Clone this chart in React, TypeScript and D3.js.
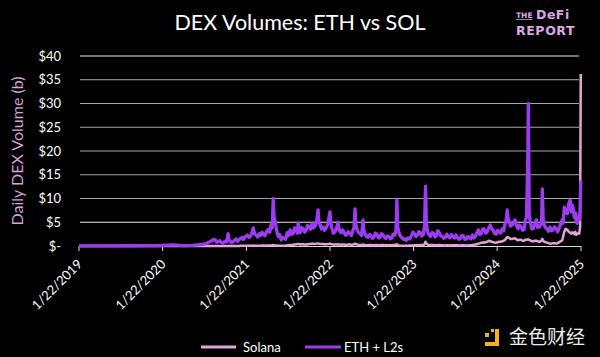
import React, { useEffect } from "react";
import * as d3 from "d3";

// ---- data, grouped by period ----
const datesA: string[] = ["2019-01-22","2019-05-01","2019-09-01","2020-01-01","2020-03-12","2020-04-15","2020-06-01","2020-07-01"];
const ethA: number[] = [0.03,0.04,0.05,0.06,0.25,0.1,0.15,0.3];
const solA: number[] = [0,0,0,0,0,0,0,0];

const datesB: string[] = ["2020-07-15","2020-07-30","2020-08-10","2020-08-21","2020-08-30","2020-09-08","2020-09-14","2020-09-21","2020-09-28","2020-10-04","2020-10-12","2020-10-21","2020-10-28","2020-11-03","2020-11-07","2020-11-12","2020-11-18","2020-11-25","2020-12-01","2020-12-08","2020-12-14","2020-12-21","2020-12-27","2021-01-03","2021-01-08","2021-01-13","2021-01-20"];
const ethB: number[] = [0.35,0.5,0.8,1.0,1.4,1.3,0.8,0.9,1.1,0.8,0.6,1.0,0.9,2.6,1.3,1.0,0.7,0.9,1.2,1.5,1.0,1.3,1.6,1.8,1.4,1.7,2.1];
const solB: number[] = [0,0,0,0,0,0,0,0,0,0,0,0,0,0.01,0.01,0.01,0.01,0.01,0.02,0.02,0.02,0.02,0.03,0.03,0.03,0.03,0.04];

const datesC: string[] = ["2021-01-26","2021-02-02","2021-02-08","2021-02-14","2021-02-21","2021-02-27","2021-03-06","2021-03-12","2021-03-19","2021-03-25","2021-04-01","2021-04-07","2021-04-14","2021-04-20","2021-04-27","2021-05-04","2021-05-10","2021-05-15","2021-05-19","2021-05-23","2021-05-28","2021-06-04","2021-06-10","2021-06-16","2021-06-23","2021-06-29","2021-07-06","2021-07-12","2021-07-19","2021-07-25","2021-08-01","2021-08-07","2021-08-14","2021-08-20","2021-08-27","2021-09-01","2021-09-05","2021-09-09","2021-09-14","2021-09-20","2021-09-27","2021-10-03","2021-10-10","2021-10-16","2021-10-23","2021-10-29","2021-11-05","2021-11-11","2021-11-18","2021-11-25","2021-12-01","2021-12-05","2021-12-10","2021-12-16","2021-12-23","2021-12-29","2022-01-05","2022-01-12"];
const ethC: number[] = [2.3,1.8,2.0,2.6,3.8,2.5,2.3,1.9,2.6,2.2,2.9,2.4,2.2,3.0,3.5,2.9,4.5,3.8,10.0,6.0,5.0,3.0,2.0,2.4,1.3,1.8,1.6,1.4,2.8,2.2,3.4,2.5,2.6,3.8,3.3,2.7,4.8,3.2,2.8,3.9,3.6,2.9,3.3,4.3,4.0,3.5,4.8,3.8,4.2,5.2,7.6,4.8,4.5,3.6,4.0,3.3,3.8,4.5];
const solC: number[] = [0.05,0.05,0.05,0.06,0.08,0.07,0.06,0.06,0.07,0.07,0.08,0.08,0.07,0.09,0.1,0.1,0.12,0.15,0.2,0.15,0.12,0.1,0.08,0.07,0.06,0.06,0.07,0.08,0.1,0.15,0.2,0.22,0.25,0.3,0.35,0.4,0.45,0.4,0.3,0.35,0.35,0.3,0.3,0.35,0.4,0.45,0.5,0.5,0.45,0.5,0.55,0.5,0.45,0.4,0.4,0.35,0.35,0.4];

const datesD: string[] = ["2022-01-22","2022-01-26","2022-01-31","2022-02-06","2022-02-13","2022-02-20","2022-02-26","2022-03-04","2022-03-11","2022-03-17","2022-03-24","2022-03-30","2022-04-06","2022-04-12","2022-04-19","2022-04-25","2022-05-02","2022-05-07","2022-05-11","2022-05-15","2022-05-20","2022-05-26","2022-06-02","2022-06-09","2022-06-15","2022-06-19","2022-06-24","2022-06-30","2022-07-07","2022-07-13","2022-07-20","2022-07-26","2022-08-02","2022-08-08","2022-08-15","2022-08-21","2022-08-28","2022-09-03","2022-09-10","2022-09-16","2022-09-23","2022-09-29","2022-10-06","2022-10-12","2022-10-19","2022-10-25","2022-11-01","2022-11-06","2022-11-10","2022-11-14","2022-11-19","2022-11-25","2022-12-02","2022-12-08","2022-12-15","2022-12-21","2022-12-28","2023-01-05"];
const ethD: number[] = [7.2,4.8,3.6,2.7,3.0,3.8,5.0,3.2,2.8,3.4,3.0,2.3,2.4,3.0,2.6,2.2,3.2,3.9,7.8,4.5,3.5,2.8,2.6,2.2,5.5,3.4,2.5,2.0,1.8,2.4,2.2,1.6,1.9,2.7,2.5,1.7,1.8,2.6,2.4,1.9,1.6,2.1,2.0,1.5,1.7,2.5,2.3,3.2,9.7,4.0,2.8,2.1,1.8,1.4,1.5,1.2,1.7,1.5];
const solD: number[] = [0.5,0.4,0.35,0.3,0.3,0.3,0.35,0.3,0.25,0.3,0.3,0.25,0.25,0.3,0.3,0.25,0.3,0.35,0.5,0.4,0.3,0.25,0.2,0.2,0.3,0.25,0.2,0.15,0.15,0.2,0.2,0.15,0.15,0.2,0.2,0.15,0.15,0.2,0.2,0.15,0.15,0.15,0.15,0.15,0.15,0.2,0.2,0.25,0.35,0.2,0.1,0.05,0.05,0.05,0.05,0.05,0.05,0.08];

const datesE: string[] = ["2023-01-13","2023-01-19","2023-01-26","2023-02-01","2023-02-08","2023-02-14","2023-02-21","2023-02-27","2023-03-06","2023-03-11","2023-03-15","2023-03-19","2023-03-24","2023-03-30","2023-04-06","2023-04-12","2023-04-19","2023-04-25","2023-05-02","2023-05-08","2023-05-15","2023-05-21","2023-05-28","2023-06-03","2023-06-10","2023-06-16","2023-06-23","2023-06-29","2023-07-07","2023-07-13","2023-07-20","2023-07-26","2023-08-02","2023-08-08","2023-08-15","2023-08-21","2023-08-28","2023-09-03","2023-09-10","2023-09-16","2023-09-23","2023-09-29","2023-10-06","2023-10-12","2023-10-19","2023-10-25","2023-11-01","2023-11-07","2023-11-14","2023-11-20","2023-11-27","2023-12-03","2023-12-10","2023-12-16","2023-12-23","2023-12-29","2024-01-05","2024-01-11","2024-01-18"];
const ethE: number[] = [2.2,2.9,2.6,2.0,2.3,3.0,2.8,2.1,2.5,4.5,12.6,4.8,3.0,2.4,2.0,2.8,2.7,1.9,2.2,3.2,2.8,2.1,2.0,1.6,1.8,2.5,2.0,1.7,2.4,1.9,1.7,2.3,1.8,1.4,1.6,2.2,2.1,1.4,1.5,2.0,1.8,1.5,2.3,1.7,2.0,2.8,3.4,2.4,2.6,3.6,3.5,2.7,3.0,3.8,4.4,3.6,3.3,2.6,2.5];
const solE: number[] = [0.1,0.12,0.15,0.15,0.15,0.18,0.2,0.2,0.2,0.4,0.9,0.5,0.3,0.25,0.2,0.2,0.2,0.15,0.15,0.2,0.2,0.15,0.15,0.12,0.12,0.15,0.15,0.12,0.15,0.15,0.15,0.15,0.15,0.12,0.12,0.15,0.15,0.12,0.12,0.12,0.15,0.15,0.2,0.25,0.3,0.35,0.5,0.55,0.7,0.75,0.8,0.75,0.9,1.1,1.0,0.9,0.8,0.75,0.7];

const datesF: string[] = ["2024-01-24","2024-01-31","2024-02-06","2024-02-13","2024-02-19","2024-02-26","2024-03-02","2024-03-06","2024-03-10","2024-03-14","2024-03-20","2024-03-27","2024-04-02","2024-04-09","2024-04-15","2024-04-22","2024-04-28","2024-05-06","2024-05-12","2024-05-19","2024-05-24","2024-05-29","2024-06-03","2024-06-06","2024-06-10","2024-06-15","2024-06-21","2024-06-28","2024-07-04","2024-07-11","2024-07-17","2024-07-24","2024-07-30","2024-08-03","2024-08-06","2024-08-10","2024-08-14","2024-08-20","2024-08-27","2024-09-02","2024-09-09","2024-09-15","2024-09-22","2024-09-28","2024-10-06","2024-10-12","2024-10-19","2024-10-25","2024-11-01","2024-11-05","2024-11-10","2024-11-16","2024-11-23","2024-11-29","2024-12-06","2024-12-10","2024-12-15","2024-12-19","2024-12-24","2024-12-28","2025-01-01","2025-01-05","2025-01-09","2025-01-14","2025-01-18","2025-01-21"];
const ethF: number[] = [3.3,3.0,2.7,3.6,3.2,4.8,5.6,7.6,5.8,5.2,4.2,4.4,5.0,5.5,4.3,3.6,4.4,4.0,3.3,3.5,5.5,6.0,16.6,30.0,6.5,5.0,3.6,3.7,4.6,5.5,3.9,4.0,4.4,5.0,12.0,5.5,4.5,3.9,3.6,3.1,4.0,3.2,3.4,4.0,3.6,3.0,3.8,4.6,5.5,4.8,8.2,7.0,6.8,8.8,9.7,7.2,8.6,8.0,6.0,7.0,5.2,4.8,6.3,5.5,7.5,13.8];
const solF: number[] = [0.8,0.9,0.9,1.0,1.1,1.3,1.6,1.9,1.8,1.7,1.5,1.5,1.6,1.6,1.4,1.2,1.3,1.3,1.1,1.1,1.3,1.3,1.4,1.4,1.3,1.2,1.0,1.0,1.1,1.1,1.0,0.9,1.0,1.2,1.5,1.1,0.9,0.8,0.7,0.6,0.5,0.5,0.6,0.6,0.5,0.6,0.8,1.0,1.2,2.0,3.0,3.6,3.4,3.0,2.8,2.6,2.9,2.7,2.5,3.0,2.4,2.5,2.7,2.6,4.0,36.2];

const xTickDates: string[] = ["2019-01-22","2020-01-22","2021-01-22","2022-01-22","2023-01-22","2024-01-22","2025-01-22"];
const xTickLabels: string[] = ["1/22/2019","1/22/2020","1/22/2021","1/22/2022","1/22/2023","1/22/2024","1/22/2025"];
const yTicks: number[] = [0, 5, 10, 15, 20, 25, 30, 35, 40];
const yTickLabels: string[] = ["$-", "$5", "$10", "$15", "$20", "$25", "$30", "$35", "$40"];
const seriesNames: string[] = ["Solana", "ETH + L2s"];

const dates = [...datesA, ...datesB, ...datesC, ...datesD, ...datesE, ...datesF];
const ethL2s = [...ethA, ...ethB, ...ethC, ...ethD, ...ethE, ...ethF];
const solana = [...solA, ...solB, ...solC, ...solD, ...solE, ...solF];

const W = 600;
const H = 357;
const PINK = "#E4A2DA";
const PURPLE = "#9C3CF0";
const FONT = "Lato, 'Open Sans', sans-serif";

export default function App() {
  useEffect(() => {
    document.body.style.margin = "0";
    document.body.style.background = "#000";
  }, []);

  const parse = d3.utcParse("%Y-%m-%d");
  const x = d3
    .scaleUtc()
    .domain([parse("2019-01-22")!, parse("2025-01-22")!])
    .range([79, 581]);
  const y = d3.scaleLinear().domain([0, 40]).range([246, 56]);

  const n = Math.min(dates.length, ethL2s.length, solana.length);
  const idx = d3.range(n);
  const ethPts = idx.map((i) => [x(parse(dates[i])!), y(ethL2s[i])] as [number, number]);
  const solPts = idx.map((i) => [x(parse(dates[i])!), y(solana[i])] as [number, number]);
  const line = d3.line<[number, number]>().curve(d3.curveLinear);

  return (
    <svg width={W} height={H} style={{ position: "absolute", left: 0, top: 0, display: "block", background: "#000" }}>
      <rect x={0} y={0} width={W} height={H} fill="#000" />
      <text x={300} y={30} textAnchor="middle" fill="#fff" fontFamily={FONT} fontSize={21.5}>
        DEX Volumes: ETH vs SOL
      </text>
      {/* logo */}
      <g fontFamily="'DejaVu Sans', sans-serif" fontWeight="bold" fill="#DDA6E6">
        <text x={516} y={18} fontSize={7.5} textDecoration="underline">THE</text>
        <text x={536} y={19} fontSize={12.5} letterSpacing={0.5}>DeFi</text>
        <text x={516} y={35} fontSize={12.5} letterSpacing={0.6}>REPORT</text>
      </g>
      {/* y grid */}
      {yTicks.map((t, i) => (
        <g key={t}>
          {t > 0 && (
            <line x1={80} x2={579} y1={y(t)} y2={y(t)} stroke={t === 5 || t === 40 ? "#e8e8e8" : "#a8a8a8"} strokeWidth={1} />
          )}
          <text x={61} y={y(t) + 4.5} textAnchor="end" fill="#fff" fontFamily={FONT} fontSize={13}>
            {yTickLabels[i]}
          </text>
        </g>
      ))}
      {/* x axis */}
      <line x1={79} x2={581} y1={246.5} y2={246.5} stroke="#d9d9d9" strokeWidth={1} />
      {xTickDates.map((d, i) => {
        const tx = x(parse(d)!);
        return (
          <g key={d}>
            <line x1={tx} x2={tx} y1={246} y2={251} stroke="#d9d9d9" strokeWidth={1} />
            <text
              transform={`translate(${tx + 4},${265}) rotate(-45)`}
              textAnchor="end"
              fill="#fff"
              fontFamily={FONT}
              fontSize={13}
            >
              {xTickLabels[i]}
            </text>
          </g>
        );
      })}
      {/* y axis title */}
      <text
        transform={`translate(23,151) rotate(-90)`}
        textAnchor="middle"
        fill="#D9A2D8"
        fontFamily={FONT}
        fontSize={16}
      >
        Daily DEX Volume (b)
      </text>
      {/* series */}
      <path d={line(solPts) || ""} fill="none" stroke={PINK} strokeWidth={2.5} strokeLinejoin="round" />
      <path d={line(ethPts) || ""} fill="none" stroke={PURPLE} strokeWidth={3.3} strokeLinejoin="round" />
      {/* legend */}
      <line x1={201} x2={236} y1={347} y2={347} stroke={PINK} strokeWidth={3} />
      <text x={243} y={351.5} fill="#fff" fontFamily={FONT} fontSize={13}>{seriesNames[0]}</text>
      <line x1={305} x2={341} y1={347} y2={347} stroke={PURPLE} strokeWidth={3} />
      <text x={344} y={351.5} fill="#fff" fontFamily={FONT} fontSize={13}>{seriesNames[1]}</text>
      {/* watermark */}
      <g fill="#F5B21A">
        <rect x={485} y={333} width={4} height={4} />
        <rect x={491} y={329} width={3} height={3} />
        <rect x={495} y={329} width={4} height={17} />
        <rect x={485} y={342} width={14} height={4} />
      </g>
      <text x={509} y={344} fill="#ececec" fontFamily="'Noto Sans CJK SC', sans-serif" fontSize={19}>
        金色财经
      </text>
    </svg>
  );
}
